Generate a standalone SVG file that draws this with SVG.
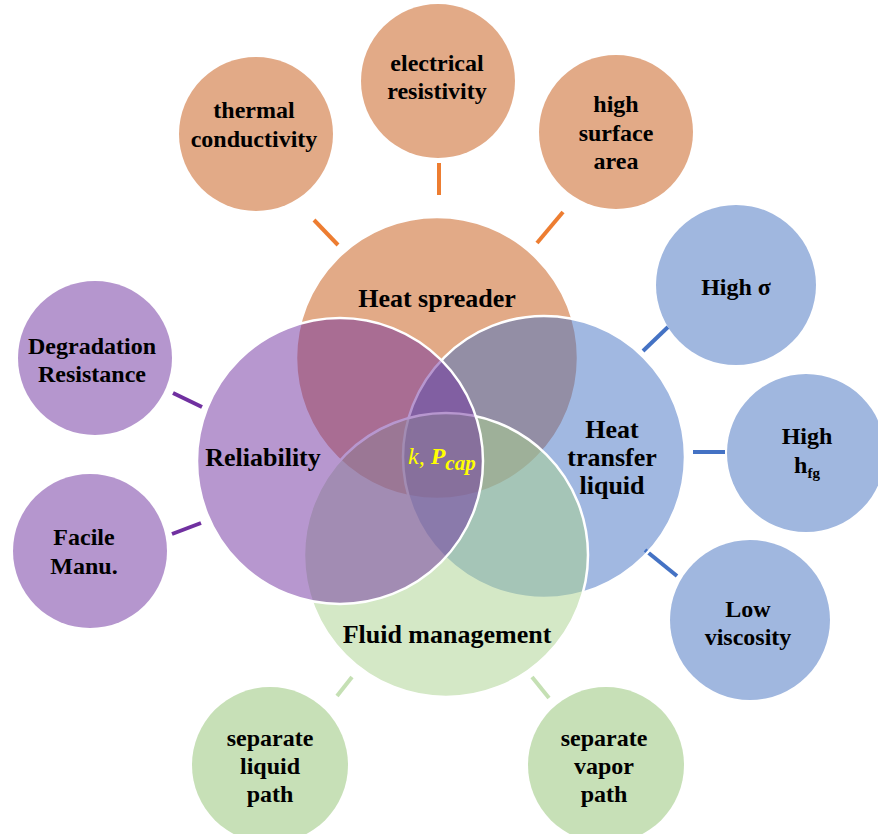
<svg xmlns="http://www.w3.org/2000/svg" width="878" height="834" viewBox="0 0 878 834">
<style>
text{font-family:"Liberation Serif","Times New Roman",serif;font-weight:bold;fill:#000;text-anchor:middle}
.sat{font-size:24px}
.big{font-size:26px}
.big-c{stroke:#fff;stroke-width:2.5}
.c-or{fill:#E2AA87}
.c-pu{fill:#B596CE}
.c-bl{fill:#A0B7DF}
.c-gr{fill:#C7E0B7}
.l-or{stroke:#ED7D31}
.l-bl{stroke:#4472C4}
.l-pu{stroke:#7030A0}
.l-gr{stroke:#C5E0B4}
#connectors line{stroke-width:4;stroke-linecap:butt}
</style>
<rect width="878" height="834" fill="#fff"/>
<g id="connectors">
<line class="l-or" x1="314" y1="220" x2="338" y2="245"/>
<line class="l-or" x1="439" y1="163" x2="439" y2="195"/>
<line class="l-or" x1="563" y1="212" x2="537" y2="243"/>
<line class="l-bl" x1="668" y1="327" x2="643" y2="351"/>
<line class="l-bl" x1="693" y1="452" x2="725" y2="452"/>
<line class="l-bl" x1="645" y1="550" x2="677" y2="576"/>
<line class="l-pu" x1="173" y1="393" x2="202" y2="407"/>
<line class="l-pu" x1="172" y1="534" x2="201" y2="523"/>
<line class="l-gr" x1="352" y1="677" x2="337" y2="696"/>
<line class="l-gr" x1="532" y1="677" x2="549" y2="698"/>
</g>
<g id="heat-spreader"><circle class="big-c" cx="437" cy="358" r="141" fill="#E2AA87"/></g>
<g id="heat-transfer-liquid"><circle class="big-c" cx="544" cy="457" r="141" fill="#4472C4" fill-opacity="0.5"/></g>
<g id="fluid-management"><circle class="big-c" cx="446" cy="555" r="142" fill="#A9D18E" fill-opacity="0.5"/></g>
<g id="reliability"><circle class="big-c" cx="340" cy="461" r="143" fill="#7030A0" fill-opacity="0.5"/></g>
<g id="labels-big">
<text class="big" x="437" y="307">Heat spreader</text>
<text class="big" x="263" y="466">Reliability</text>
<text class="big" x="612" y="438">Heat</text>
<text class="big" x="612" y="466">transfer</text>
<text class="big" x="612" y="494">liquid</text>
<text class="big" x="447" y="643">Fluid management</text>
</g>
<g id="center-label">
<text x="408" y="464" style="text-anchor:start;font-style:italic;font-weight:normal;font-size:24px;fill:#FFFF00">k, <tspan style="font-weight:bold">P</tspan><tspan dy="6" style="font-weight:bold;font-size:21px">cap</tspan></text>
</g>
<g id="thermal-conductivity"><circle class="c-or" cx="256" cy="134" r="77"/>
<text class="sat" x="254" y="118">thermal</text><text class="sat" x="254" y="147">conductivity</text></g>
<g id="electrical-resistivity"><circle class="c-or" cx="438" cy="81" r="77"/>
<text class="sat" x="437" y="71">electrical</text><text class="sat" x="437" y="99">resistivity</text></g>
<g id="high-surface-area"><circle class="c-or" cx="616" cy="132" r="77"/>
<text class="sat" x="616" y="112">high</text><text class="sat" x="616" y="141">surface</text><text class="sat" x="616" y="169">area</text></g>
<g id="high-sigma"><circle class="c-bl" cx="736" cy="285" r="80"/>
<text class="sat" x="736" y="295">High σ</text></g>
<g id="high-hfg"><circle class="c-bl" cx="806" cy="453" r="79"/>
<text class="sat" x="807" y="444">High</text><text class="sat" x="807" y="473">h<tspan dy="5" style="font-size:15px">fg</tspan></text></g>
<g id="low-viscosity"><circle class="c-bl" cx="750" cy="620" r="80"/>
<text class="sat" x="748" y="617">Low</text><text class="sat" x="748" y="645">viscosity</text></g>
<g id="degradation-resistance"><circle class="c-pu" cx="95" cy="358" r="77"/>
<text class="sat" x="92" y="354">Degradation</text><text class="sat" x="92" y="382">Resistance</text></g>
<g id="facile-manu"><circle class="c-pu" cx="90" cy="551" r="77"/>
<text class="sat" x="84" y="545">Facile</text><text class="sat" x="84" y="574">Manu.</text></g>
<g id="separate-liquid-path"><circle class="c-gr" cx="270" cy="765" r="78"/>
<text class="sat" x="270" y="746">separate</text><text class="sat" x="270" y="774">liquid</text><text class="sat" x="270" y="802">path</text></g>
<g id="separate-vapor-path"><circle class="c-gr" cx="606" cy="765" r="78"/>
<text class="sat" x="604" y="746">separate</text><text class="sat" x="604" y="774">vapor</text><text class="sat" x="604" y="802">path</text></g>
</svg>
